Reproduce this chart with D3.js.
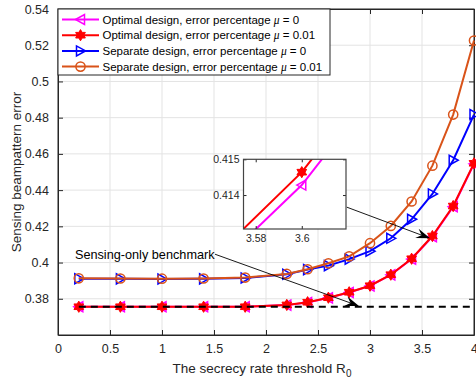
<!DOCTYPE html>
<html><head><meta charset="utf-8">
<script src="https://cdn.jsdelivr.net/npm/d3@7"></script>
<style>
html,body{margin:0;padding:0;background:#fff;}
svg{display:block;font-family:"Liberation Sans",Arial,sans-serif;}
</style></head>
<body><svg id="c" width="476" height="379"></svg>
<script>
// ---- data ----
const rateThreshold = [0.2,0.6,1.0,1.4,1.8,2.2,2.4,2.6,2.8,3.0,3.2,3.4,3.6,3.8,4.0];
const optimalMu0   = [0.3756,0.3756,0.3756,0.3756,0.3756,0.3765,0.3780,0.3805,0.3835,0.3871,0.3932,0.4019,0.41428,0.4308,0.4545];
const optimalMu001 = [0.3756,0.3756,0.3756,0.3756,0.3756,0.3766,0.3781,0.3806,0.3836,0.3872,0.3933,0.4021,0.41464,0.4312,0.4548];
const separateMu0  = [0.3911,0.3910,0.3909,0.3910,0.3915,0.3935,0.3961,0.3983,0.4019,0.4063,0.4134,0.4239,0.4379,0.4565,0.4817];
const separateMu001= [0.3913,0.3912,0.3911,0.3912,0.3917,0.3937,0.3963,0.3996,0.4034,0.4107,0.4202,0.4337,0.4535,0.4817,0.5226];
const benchmarkValue = 0.3756;
const xTicks = [0,0.5,1,1.5,2,2.5,3,3.5,4];
const yTicks = [0.38,0.4,0.42,0.44,0.46,0.48,0.5,0.52,0.54];
const insetXTicks = [3.58,3.6];
const insetYTicks = [0.414,0.415];
const legendLabels = [
  ["Optimal design, error percentage ","0"],
  ["Optimal design, error percentage ","0.01"],
  ["Separate design, error percentage ","0"],
  ["Separate design, error percentage ","0.01"]
];
// annotation anchors (data coords)
const benchText = {x:0.163, y:0.4020, label:"Sensing-only benchmark"};
const benchArrow = {x1:1.51, y1:0.4046, x2:2.894, y2:0.3760};
const insetArrow = {x1:2.776, y1:0.4306, x2:3.577, y2:0.4134};

// ---- layout ----
const L=58, R=474, T=9, B=335;
const AX="#262626", GRID="#e3e3e3";
const svg=d3.select("#c");
const x=d3.scaleLinear().domain([0,4]).range([L,R]);
const y=d3.scaleLinear().domain([0.36,0.54]).range([B,T]);

const series=[
  {v:optimalMu0,color:"#ff00ff",marker:"left"},
  {v:optimalMu001,color:"#ff0000",marker:"hex"},
  {v:separateMu0,color:"#0000ff",marker:"right"},
  {v:separateMu001,color:"#d95319",marker:"circle"}
];

// grid
const g=svg.append("g");
g.selectAll(".gx").data(xTicks.slice(1,-1)).enter().append("line")
 .attr("x1",d=>x(d)).attr("x2",d=>x(d)).attr("y1",T).attr("y2",B).attr("stroke",GRID).attr("stroke-width",1);
g.selectAll(".gy").data(yTicks.slice(0,-1)).enter().append("line")
 .attr("x1",L).attr("x2",R).attr("y1",d=>y(d)).attr("y2",d=>y(d)).attr("stroke",GRID).attr("stroke-width",1);

// axes
const xa=svg.append("g").attr("transform",`translate(0,${B})`)
 .call(d3.axisBottom(x).tickValues(xTicks).tickFormat(d3.format("~g")).tickSizeInner(-5).tickSizeOuter(0).tickPadding(9));
const xt=svg.append("g").attr("transform",`translate(0,${T})`)
 .call(d3.axisTop(x).tickValues(xTicks).tickFormat("").tickSizeInner(-5).tickSizeOuter(0));
const ya=svg.append("g").attr("transform",`translate(${L},0)`)
 .call(d3.axisLeft(y).tickValues(yTicks).tickFormat(d3.format("~g")).tickSizeInner(-5).tickSizeOuter(0).tickPadding(9));
const yr=svg.append("g").attr("transform",`translate(${R},0)`)
 .call(d3.axisRight(y).tickValues(yTicks).tickFormat("").tickSizeInner(-5).tickSizeOuter(0));
[xa,xt,ya,yr].forEach(a=>{
  a.selectAll("path").attr("stroke",AX).attr("stroke-width",1);
  a.selectAll("line").attr("stroke",AX);
  a.selectAll("text").attr("fill",AX).attr("font-size","12.5px").attr("font-family","Liberation Sans, Arial, sans-serif");
});
svg.append("rect").attr("x",L).attr("y",T).attr("width",R-L).attr("height",B-T).attr("fill","none").attr("stroke",AX).attr("stroke-width",1);

// marker drawing
function hexPath(r){
  const pts=[];
  for(let i=0;i<12;i++){
    const a=-Math.PI/2+i*Math.PI/6;
    const rr=(i%2===0)?r:r*0.58;
    pts.push([rr*Math.cos(a),rr*Math.sin(a)]);
  }
  return "M"+pts.map(p=>p.join(",")).join("L")+"Z";
}
function drawMarker(sel,type,color,cx,cy){
  const s=sel.append("g").attr("transform",`translate(${cx},${cy})`);
  if(type==="circle"){
    s.append("circle").attr("r",4.6).attr("fill","none").attr("stroke",color).attr("stroke-width",1.5);
  } else if(type==="left"){
    s.append("path").attr("d","M-5,0L4,-5L4,5Z").attr("fill","none").attr("stroke",color).attr("stroke-width",1.5);
  } else if(type==="right"){
    s.append("path").attr("d","M5,0L-4,-5L-4,5Z").attr("fill","none").attr("stroke",color).attr("stroke-width",1.5);
  } else if(type==="hex"){
    s.append("path").attr("d",hexPath(5.6)).attr("fill",color).attr("stroke",color).attr("stroke-width",1);
  }
}

const line=d3.line().x(d=>x(d[0])).y(d=>y(d[1]));
const plot=svg.append("g");
series.forEach(s=>{
  const data=rateThreshold.map((r,i)=>[r,s.v[i]]);
  plot.append("path").attr("d",line(data)).attr("fill","none").attr("stroke",s.color).attr("stroke-width",2);
  data.forEach(d=>drawMarker(plot,s.marker,s.color,x(d[0]),y(d[1])));
});
// benchmark dashed line
plot.append("line").attr("x1",x(rateThreshold[0])).attr("x2",x(rateThreshold[rateThreshold.length-1]))
 .attr("y1",y(benchmarkValue)).attr("y2",y(benchmarkValue))
 .attr("stroke","#000").attr("stroke-width",2).attr("stroke-dasharray","7,5");

// arrows
function arrow(a){
  const X1=x(a.x1),Y1=y(a.y1),X2=x(a.x2),Y2=y(a.y2);
  const ang=Math.atan2(Y2-Y1,X2-X1);
  const len=14, w=5, back=9;
  svg.append("line").attr("x1",X1).attr("y1",Y1)
   .attr("x2",X2-Math.cos(ang)*back).attr("y2",Y2-Math.sin(ang)*back)
   .attr("stroke","#000").attr("stroke-width",0.9);
  const ca=Math.cos(ang), sa=Math.sin(ang);
  const p=(u,v)=>[X2+u*ca-v*sa, Y2+u*sa+v*ca];
  const pts=[p(0,0),p(-len,-w),p(-back,0),p(-len,w)];
  svg.append("path").attr("d","M"+pts.map(q=>q.join(",")).join("L")+"Z").attr("fill","#000");
}
arrow(benchArrow);
arrow(insetArrow);
svg.append("text").attr("x",x(benchText.x)).attr("y",y(benchText.y)).attr("font-size","12.7px").attr("fill","#000").text(benchText.label);

// labels
const xl=svg.append("text").attr("x",(L+R)/2-4).attr("y",373).attr("text-anchor","middle").attr("font-size","13.5px").attr("fill",AX);
xl.append("tspan").text("The secrecy rate threshold R");
xl.append("tspan").attr("font-size","10px").attr("dy",4).text("0");
svg.append("text").attr("transform",`translate(21,${(T+B)/2}) rotate(-90)`).attr("text-anchor","middle").attr("font-size","13.5px").attr("fill",AX).text("Sensing beampattern error");

// legend
const lg=svg.append("g");
lg.append("rect").attr("x",L).attr("y",T).attr("width",272).attr("height",66).attr("fill","#fff").attr("stroke",AX).attr("stroke-width",1);
series.forEach((s,i)=>{
  const cy=T+10.5+i*15.7;
  lg.append("line").attr("x1",62).attr("x2",99).attr("y1",cy).attr("y2",cy).attr("stroke",s.color).attr("stroke-width",2);
  drawMarker(lg,s.marker,s.color,80.5,cy);
  const t=lg.append("text").attr("x",102.5).attr("y",cy+4).attr("font-size","11.5px").attr("fill","#000");
  t.append("tspan").text(legendLabels[i][0]);
  t.append("tspan").attr("font-family","Liberation Serif, serif").attr("font-style","italic").text("\u03bc");
  t.append("tspan").text(" = "+legendLabels[i][1]);
});

// inset
const IL=243.5, IR=346, IT=159.3, IB=229;
const ix=d3.scaleLinear().domain([3.5747,3.6192]).range([IL,IR]);
const iy=d3.scaleLinear().domain([0.41305,0.415]).range([IB,IT]);
const ins=svg.append("g");
ins.append("rect").attr("x",IL).attr("y",IT).attr("width",IR-IL).attr("height",IB-IT).attr("fill","#fff");
ins.append("clipPath").attr("id","ic").append("rect").attr("x",IL).attr("y",IT).attr("width",IR-IL).attr("height",IB-IT);
const ic=ins.append("g").attr("clip-path","url(#ic)");
const iline=d3.line().x(d=>ix(d[0])).y(d=>iy(d[1]));
series.slice(0,2).forEach(s=>{
  const data=rateThreshold.map((r,i)=>[r,s.v[i]]);
  ic.append("path").attr("d",iline(data)).attr("fill","none").attr("stroke",s.color).attr("stroke-width",2);
  data.forEach(d=>{ if(d[0]>3.5 && d[0]<3.7) drawMarker(ic,s.marker,s.color,ix(d[0]),iy(d[1])); });
});
const iax=ins.append("g").attr("transform",`translate(0,${IB})`)
 .call(d3.axisBottom(ix).tickValues(insetXTicks).tickFormat(d3.format("~g")).tickSizeInner(-3).tickSizeOuter(0).tickPadding(6));
const iat=ins.append("g").attr("transform",`translate(0,${IT})`)
 .call(d3.axisTop(ix).tickValues(insetXTicks).tickFormat("").tickSizeInner(-3).tickSizeOuter(0));
const iay=ins.append("g").attr("transform",`translate(${IL},0)`)
 .call(d3.axisLeft(iy).tickValues(insetYTicks).tickFormat(d3.format("~g")).tickSizeInner(-3).tickSizeOuter(0).tickPadding(4));
const iar=ins.append("g").attr("transform",`translate(${IR},0)`)
 .call(d3.axisRight(iy).tickValues(insetYTicks).tickFormat("").tickSizeInner(-3).tickSizeOuter(0));
[iax,iat,iay,iar].forEach(a=>{
  a.selectAll("path").attr("stroke","none");
  a.selectAll("line").attr("stroke",AX);
  a.selectAll("text").attr("fill",AX).attr("font-size","10.5px").attr("font-family","Liberation Sans, Arial, sans-serif");
});
ins.append("rect").attr("x",IL).attr("y",IT).attr("width",IR-IL).attr("height",IB-IT).attr("fill","none").attr("stroke","#444").attr("stroke-width",1.2);
</script></body></html>
